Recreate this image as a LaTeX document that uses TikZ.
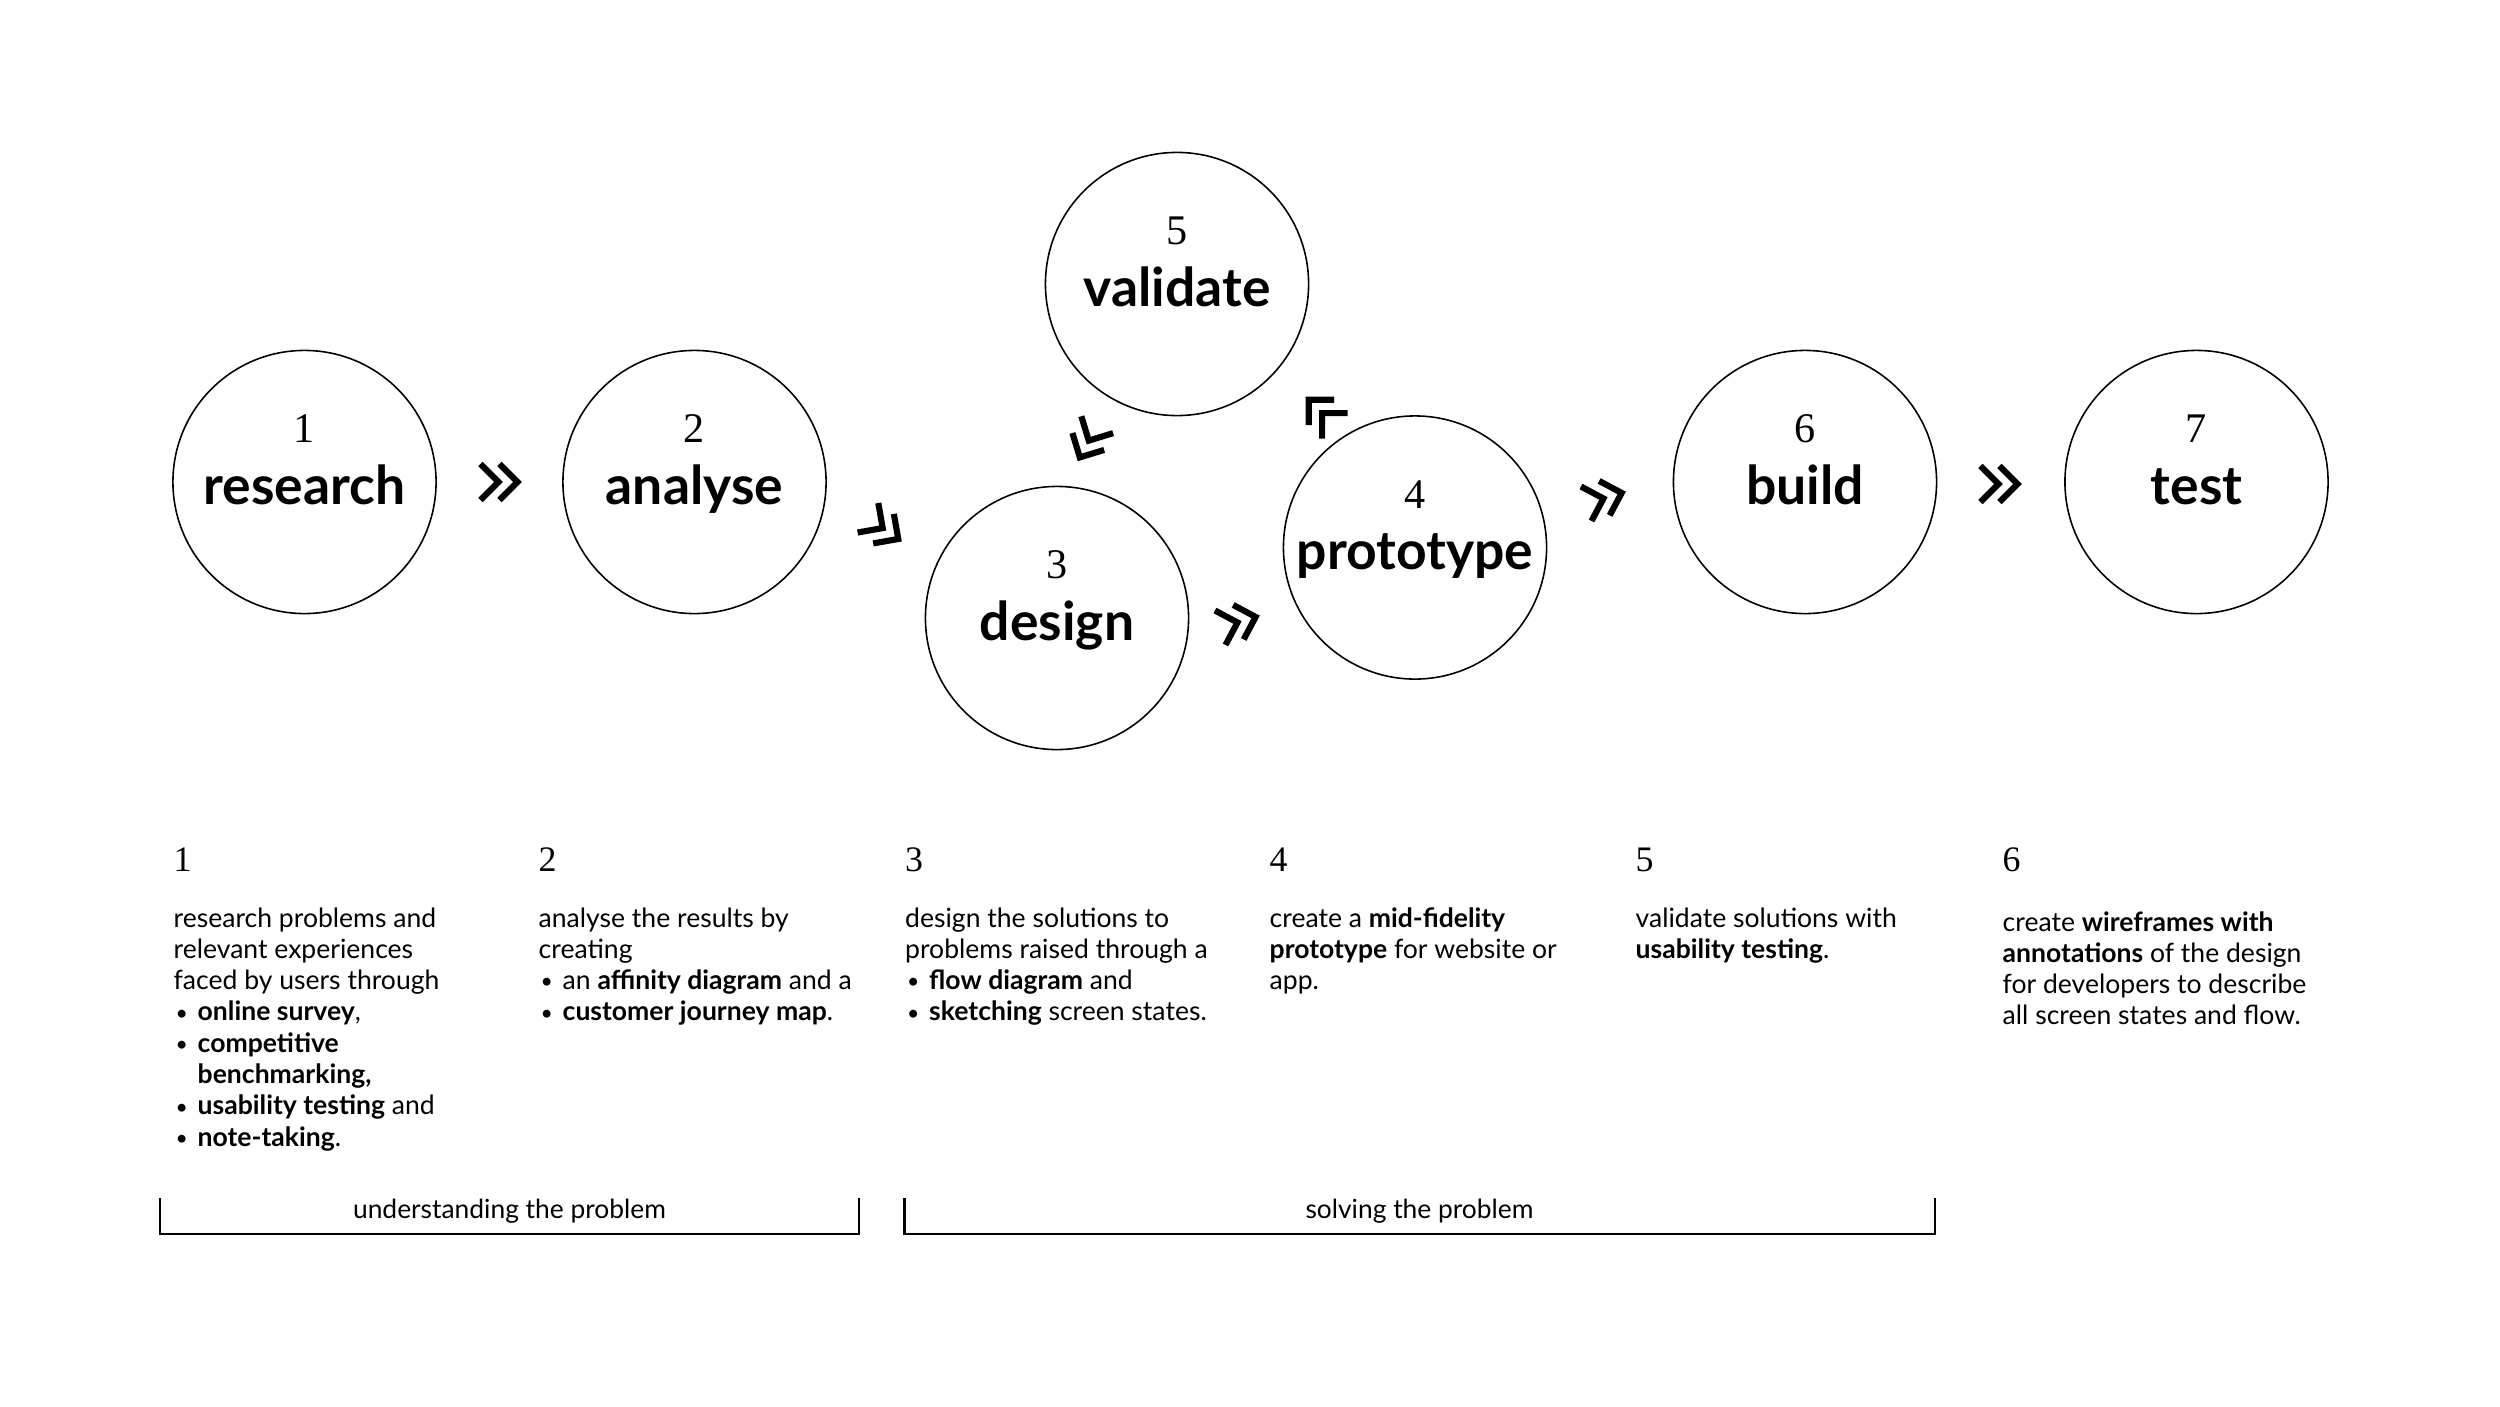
\documentclass[tikz,border=0pt]{standalone}
\usepackage{fontspec}
\setmainfont{Lato}
\newfontfamily\numfont{Liberation Serif}
\newcommand\bul{\makebox[0.24cm][l]{\hspace{0.02cm}\raisebox{0.03em}{\scalebox{0.8}{\textbullet}}}}
\newcommand\ind{\hspace*{0.24cm}}
\tikzset{
  stage/.style={circle, draw=black, line width=0.45pt, minimum size=2.63cm, inner sep=0pt},
  stagenum/.style={font=\numfont\fontsize{12}{12}\selectfont, inner sep=0pt, anchor=center},
  stageword/.style={font=\bfseries\fontsize{15.2}{16}\selectfont, inner sep=0pt, anchor=base},
  colnum/.style={font=\numfont\fontsize{10.2}{11}\selectfont, inner sep=0pt, anchor=base west},
  coltext/.style={font=\fontsize{7.55}{8.9}\selectfont, inner sep=0pt, anchor=base west},
  brlabel/.style={font=\fontsize{7.5}{9}\selectfont, inner sep=0pt, anchor=base},
  bracket/.style={line width=0.6pt},
  chevpair/.pic={
    \draw[line width=1.75pt, line join=miter]
      (-19.6,-18) -- (-1.6,0) -- (-19.6,18)
      (-0.6,-18) -- (17.4,0) -- (-0.6,18);
  },
}
\begin{document}
\begin{tikzpicture}[x=0.01cm, y=-0.01cm]
\useasboundingbox[fill=white] (0,0) rectangle (2500,1406);

% stage circles
\node[stage] (research)  at (304.5,482) {};
\node[stage] (analyse)   at (694.5,482) {};
\node[stage] (design)    at (1057,618) {};
\node[stage] (validate)  at (1177,284) {};
\node[stage] (prototype) at (1415,547.5) {};
\node[stage] (build)     at (1805,482) {};
\node[stage] (test)      at (2196.5,482) {};

% numbers and words inside circles
\node[stagenum] (n-research) at (304.5,429) {1};
\node[stageword] (w-research) at (304.5,504) {research};
\node[stagenum] (n-analyse) at (694.5,429) {2};
\node[stageword] (w-analyse) at (694.5,504) {analyse};
\node[stagenum] (n-design) at (1057,565) {3};
\node[stageword] (w-design) at (1057,640) {design};
\node[stagenum] (n-validate) at (1177,231) {5};
\node[stageword] (w-validate) at (1177,306) {validate};
\node[stagenum] (n-prototype) at (1415,494.5) {4};
\node[stageword] (w-prototype) at (1415,569.5) {prototype};
\node[stagenum] (n-build) at (1805,429) {6};
\node[stageword] (w-build) at (1805,504) {build};
\node[stagenum] (n-test) at (2196.5,429) {7};
\node[stageword] (w-test) at (2196.5,504) {test};

% chevrons
\pic at (500,482) {chevpair};
\pic[rotate=-35] at (884,529) {chevpair};
\pic[rotate=17] at (1239,622) {chevpair};
\pic[rotate=135] at (1321,412) {chevpair};
\pic[rotate=242] at (1088,442) {chevpair};
\pic[rotate=17] at (1605,498) {chevpair};
\pic at (2000,484) {chevpair};

% column numbers
\node[colnum] (c1) at (173,871) {1};
\node[colnum] (c2) at (538,871) {2};
\node[colnum] (c3) at (904.5,871) {3};
\node[colnum] (c4) at (1269,871) {4};
\node[colnum] (c5) at (1635,871) {5};
\node[colnum] (c6) at (2002,871) {6};

% column texts
\node[coltext] (t1) at (173,927) {\begin{tabular}[t]{@{}l@{}}
research problems and\\
relevant experiences\\
faced by users through\\
\bul\textbf{online survey},\\
\bul\textbf{competitive}\\
\ind\textbf{benchmarking,}\\
\bul\textbf{usability testing} and\\
\bul\textbf{note-taking}.
\end{tabular}};
\node[coltext] (t2) at (538,927) {\begin{tabular}[t]{@{}l@{}}
analyse the results by\\
creating\\
\bul an \textbf{affinity diagram} and a\\
\bul\textbf{customer journey map}.
\end{tabular}};
\node[coltext] (t3) at (904.5,927) {\begin{tabular}[t]{@{}l@{}}
design the solutions to\\
problems raised through a\\
\bul\textbf{flow diagram} and\\
\bul\textbf{sketching} screen states.
\end{tabular}};
\node[coltext] (t4) at (1269,927) {\begin{tabular}[t]{@{}l@{}}
create a \textbf{mid-fidelity}\\
\textbf{prototype} for website or\\
app.
\end{tabular}};
\node[coltext] (t5) at (1635,927) {\begin{tabular}[t]{@{}l@{}}
validate solutions with\\
\textbf{usability testing}.
\end{tabular}};
\node[coltext] (t6) at (2002,931) {\begin{tabular}[t]{@{}l@{}}
create \textbf{wireframes with}\\
\textbf{annotations} of the design\\
for developers to describe\\
all screen states and flow.
\end{tabular}};

% brackets
\coordinate (b1a) at (160,1198);
\coordinate (b1b) at (859,1198);
\coordinate (b2a) at (904.5,1198);
\coordinate (b2b) at (1935,1198);
\draw[bracket] (b1a) -- ++(0,36) -| (b1b);
\draw[bracket] (b2a) -- ++(0,36) -| (b2b);
\node[brlabel] (l1) at (509.5,1218.5) {understanding the problem};
\node[brlabel] (l2) at (1419.5,1218.5) {solving the problem};
\end{tikzpicture}
\end{document}
